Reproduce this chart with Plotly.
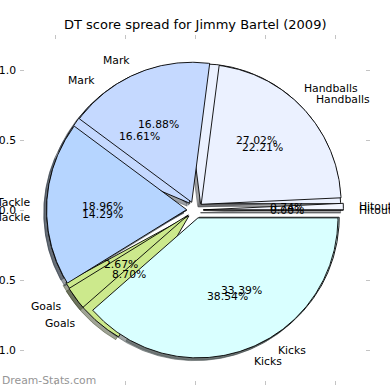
import numpy as np
import plotly.graph_objects as go

# ---- data ----
categories = ["Hitout", "Handballs", "Mark", "Tackle", "Goals", "Kicks"]
pct_a = [0.00, 27.02, 16.61, 14.29, 8.70, 33.39]
pct_b = [0.74, 22.21, 16.88, 18.96, 2.67, 38.54]
slice_colors = ["#F3F6FF", "#EBF1FF", "#C5D9FF", "#B6D5FF", "#CCE98C", "#D9FFFF"]
tick_vals = [-1.0, -0.5, 0.0, 0.5, 1.0]
tick_text = ["-1.0", "-0.5", "0.0", "0.5", "1.0"]
title_text = "DT score spread for Jimmy Bartel (2009)"
watermark = "Dream-Stats.com"

# ---- pie geometry (matplotlib-like defaults) ----
EXPLODE = 0.06
RADIUS = 1.0
LABEL_DIST = 1.1
PCT_DIST = 0.6
SHADOW_OFF = -0.02
FONT = "DejaVu Sans"
FS = 10.8


def hex_rgb(h):
    h = h.lstrip("#")
    return tuple(int(h[i:i + 2], 16) for i in (0, 2, 4))


def wedges(values):
    v = np.array(values, dtype=float)
    frac = v / v.sum()
    out = []
    t = 0.0
    for f in frac:
        t1, t2 = t, t + 360.0 * f
        tm = np.deg2rad((t1 + t2) / 2)
        cx, cy = EXPLODE * np.cos(tm), EXPLODE * np.sin(tm)
        ang = np.deg2rad(np.linspace(t1, t2, max(2, int(abs(t2 - t1) * 2) + 2)))
        xs = np.concatenate([[cx], cx + RADIUS * np.cos(ang), [cx]])
        ys = np.concatenate([[cy], cy + RADIUS * np.sin(ang), [cy]])
        out.append(dict(xs=xs, ys=ys, cx=cx, cy=cy, tm=tm))
        t = t2
    return out


pies = [(pct_a, wedges(pct_a)), (pct_b, wedges(pct_b))]

fig = go.Figure()

# shadows first (drawn beneath all wedges)
for vals, ws in pies:
    for w, col in zip(ws, slice_colors):
        r, g, b = hex_rgb(col)
        sc = f"rgba({int(r*0.3)},{int(g*0.3)},{int(b*0.3)},0.5)"
        fig.add_trace(go.Scatter(x=w["xs"] + SHADOW_OFF, y=w["ys"] + SHADOW_OFF,
                                 mode="lines", fill="toself", fillcolor=sc,
                                 line=dict(color=sc, width=1), hoverinfo="skip",
                                 showlegend=False))

# wedges
for vals, ws in pies:
    for w, col, name in zip(ws, slice_colors, categories):
        fig.add_trace(go.Scatter(x=w["xs"], y=w["ys"], mode="lines", fill="toself",
                                 fillcolor=col, line=dict(color="black", width=0.9),
                                 name=name, hoverinfo="name", showlegend=False))

# texts
ann = []
for vals, ws in pies:
    for w, v, name in zip(ws, vals, categories):
        tm = w["tm"]
        lx = w["cx"] + LABEL_DIST * RADIUS * np.cos(tm)
        ly = w["cy"] + LABEL_DIST * RADIUS * np.sin(tm)
        ann.append(dict(x=lx, y=ly, xref="x", yref="y", text=name, showarrow=False,
                        xanchor="left" if lx > 0 else "right", yanchor="middle",
                        font=dict(family=FONT, size=FS, color="black")))
        px = w["cx"] + PCT_DIST * RADIUS * np.cos(tm)
        py = w["cy"] + PCT_DIST * RADIUS * np.sin(tm)
        ann.append(dict(x=px, y=py, xref="x", yref="y", text=f"{v:.2f}%", showarrow=False,
                        xanchor="center", yanchor="middle",
                        font=dict(family=FONT, size=FS, color="black")))

ann.append(dict(x=0.5, y=(390 - 25) / 390, xref="paper", yref="paper", text=title_text,
                showarrow=False, xanchor="center", yanchor="middle",
                font=dict(family=FONT, size=13, color="black")))
ann.append(dict(x=0.0, y=(390 - 380) / 390, xref="paper", yref="paper", text=watermark,
                showarrow=False, xanchor="left", yanchor="middle",
                font=dict(family=FONT, size=FS, color="#959595")))

axis_common = dict(range=[-1.25, 1.25], tickvals=tick_vals, ticktext=tick_text,
                   ticks="inside", ticklen=4, tickcolor="#c4c4c4", tickwidth=1,
                   mirror="ticks", showline=False, showgrid=False, zeroline=False,
                   automargin=False, fixedrange=True, ticklabelstandoff=3,
                   tickfont=dict(family=FONT, size=FS, color="black"))

fig.update_layout(
    template="none",
    width=390, height=390,
    margin=dict(l=0, r=0, t=0, b=0),
    paper_bgcolor="white", plot_bgcolor="white",
    xaxis=dict(domain=[20 / 390, 370 / 390], **axis_common),
    yaxis=dict(domain=[5 / 390, 355 / 390], **axis_common),
    annotations=ann,
    showlegend=False,
    font=dict(family=FONT, size=FS, color="black"),
)

fig.write_html("out.html",
               config={"displayModeBar": False},
               post_script="document.body.style.margin='0';document.body.style.overflow='hidden';")
